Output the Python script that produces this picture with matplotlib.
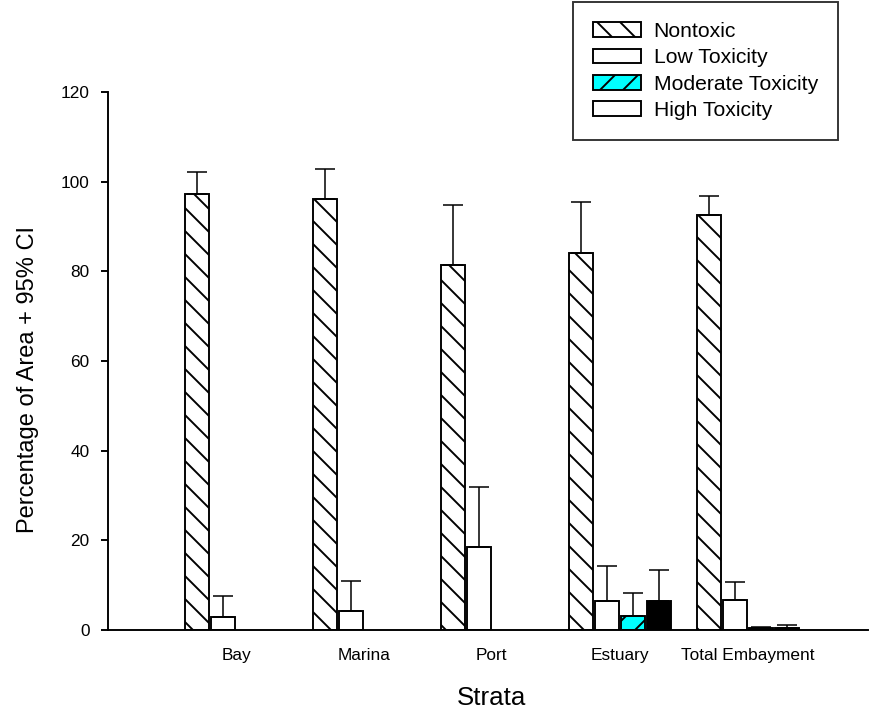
import matplotlib
matplotlib.use("Agg")
import matplotlib.pyplot as plt
from matplotlib.patches import Patch
import numpy as np

strata = ["Bay", "Marina", "Port", "Estuary", "Total Embayment"]
series = ["Nontoxic", "Low Toxicity", "Moderate Toxicity", "High Toxicity"]
nontoxic = [97.2, 96.1, 81.4, 84.0, 92.6]
nontoxic_ci = [4.9, 6.8, 13.3, 11.4, 4.3]
low = [2.8, 4.2, 18.6, 6.4, 6.7]
low_ci = [4.7, 6.8, 13.2, 7.9, 4.1]
moderate = [0.0, 0.0, 0.0, 3.2, 0.4]
moderate_ci = [0.0, 0.0, 0.0, 5.1, 0.2]
high = [0.0, 0.0, 0.0, 6.5, 0.5]
high_ci = [0.0, 0.0, 0.0, 6.8, 0.6]

DPI = 138
plt.rcParams['font.family'] = ['Liberation Sans', 'DejaVu Sans']
plt.rcParams['hatch.linewidth'] = 1.0

fig = plt.figure(figsize=(870 / DPI, 715 / DPI), dpi=DPI)
ax = fig.add_axes([108 / 870, 85 / 715, 760 / 870, 538 / 715])

x = np.arange(1, len(strata) + 1)
pitch = 0.203
width = 0.19
vals = [nontoxic, low, moderate, high]
cis = [nontoxic_ci, low_ci, moderate_ci, high_ci]
faces = ['white', 'white', '#00ffff', 'black']
hatches = ['\\\\', '', '//', '']
for i in range(4):
    pos = x + (i - 1.5) * pitch
    v = np.array(vals[i])
    c = np.array(cis[i])
    mask = v > 0
    ax.bar(pos[mask], v[mask], width=width, color=faces[i], edgecolor='black',
           linewidth=1.0, hatch=hatches[i], zorder=2)
    ax.errorbar(pos[mask], v[mask], yerr=[np.zeros(mask.sum()), c[mask]],
                fmt='none', ecolor='black', elinewidth=0.8, capsize=5.2,
                capthick=0.8, zorder=3)

ax.set_xlim(0, 5.94)
ax.set_ylim(0, 120)
ax.set_yticks([0, 20, 40, 60, 80, 100, 120])
ax.set_xticks(x)
ax.set_xticklabels(strata)
ax.tick_params(axis='x', length=0, pad=9.5, labelsize=9)
ax.tick_params(axis='y', length=3.7, width=1.0, pad=6, labelsize=9, direction='out')
for s in ['top', 'right']:
    ax.spines[s].set_visible(False)
for s in ['left', 'bottom']:
    ax.spines[s].set_linewidth(1.0)
ax.set_xlabel("Strata", fontsize=13.5)
ax.xaxis.set_label_coords(0.504, -0.104)
ax.set_ylabel("Percentage of Area + 95% CI", fontsize=12.3)
ax.yaxis.set_label_coords(-0.0908, 0.4647)

handles = [
    Patch(facecolor='white', edgecolor='black', hatch='\\\\', linewidth=1.0),
    Patch(facecolor='white', edgecolor='black', linewidth=1.0),
    Patch(facecolor='#00ffff', edgecolor='black', hatch='//', linewidth=1.0),
    Patch(facecolor='white', edgecolor='black', linewidth=1.0),
]
leg = fig.legend(handles, series, loc='upper right',
                 bbox_to_anchor=(838 / 870, 1 - 2 / 715), fontsize=11,
                 frameon=True, fancybox=False, edgecolor='black',
                 handlelength=2.27, handleheight=0.71, handletextpad=0.62,
                 labelspacing=0.35, borderpad=0.95, borderaxespad=0)
leg.get_frame().set_linewidth(1.0)

fig.savefig("out.png", dpi=DPI)
